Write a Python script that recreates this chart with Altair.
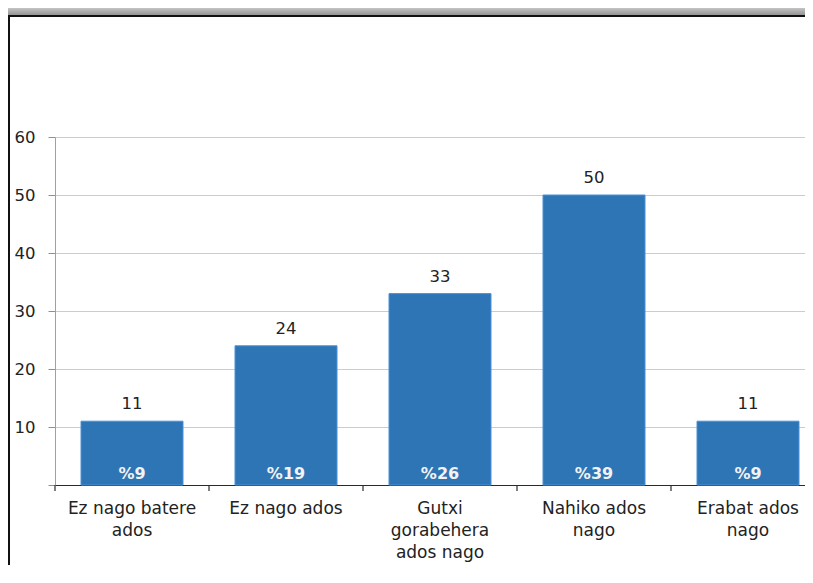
import altair as alt
import pandas as pd

categories = ["Ez nago batere|ados", "Ez nago ados", "Gutxi|gorabehera|ados nago",
              "Nahiko ados|nago", "Erabat ados|nago"]
values = [11, 24, 33, 50, 11]
percents = ["%9", "%19", "%26", "%39", "%9"]
y_ticks = [0, 10, 20, 30, 40, 50, 60]

df = pd.DataFrame({"cat": categories, "value": values, "pct": percents})

FONT = "DejaVu Sans"
W, H = 750, 348
STEP = 154
BAR = 102
pin = (STEP - BAR) / STEP

xscale = alt.Scale(domain=categories, range=[0, STEP * len(categories)],
                   paddingInner=pin, paddingOuter=pin / 2)
yscale = alt.Scale(domain=[0, 60], nice=False)

base = alt.Chart(df)

bars = base.mark_bar(color="#2e75b6", stroke="#4a90d9", strokeWidth=1).encode(
    x=alt.X("cat:N", scale=xscale, sort=categories, title=None,
            axis=alt.Axis(labelExpr="split(datum.label, '|')", labelAngle=0,
                          ticks=False, tickSize=0, labelPadding=15,
                          labelFontSize=17, labelFont=FONT, labelColor="#222222",
                          labelLineHeight=22, domainColor="#2a2a2a", domainWidth=1.2,
                          labelLimit=200)),
    y=alt.Y("value:Q", scale=yscale, title=None,
            axis=alt.Axis(values=y_ticks, grid=True, gridColor="#cccccc",
                          domainColor="#a0a0a0", tickColor="#909090", tickSize=7,
                          labelFontSize=16.5, labelFont=FONT, labelColor="#222222",
                          labelPadding=13,
                          labelExpr="datum.value == 0 ? '' : datum.label")),
)

value_labels = base.mark_text(font=FONT, fontSize=16.5, color="#222222",
                              baseline="alphabetic", dy=-12).encode(
    x=alt.X("cat:N", scale=xscale, sort=categories),
    y=alt.Y("value:Q", scale=yscale),
    text="value:Q",
)

pct_labels = base.mark_text(font=FONT, fontSize=16, fontWeight="bold", color="#f2f2f2",
                            baseline="alphabetic", dy=-6).encode(
    x=alt.X("cat:N", scale=xscale, sort=categories),
    y=alt.datum(0, scale=yscale),
    text="pct:N",
)

ticks = base.mark_rule(color="#2a2a2a", strokeWidth=1.2, xOffset=-(STEP - BAR) / 2).encode(
    x=alt.X("cat:N", scale=xscale, sort=categories, bandPosition=0),
    y=alt.value(H),
    y2=alt.value(H + 6),
)

one = alt.Data(values=[{"k": 1}])
top_shade = alt.Chart(one).mark_rect(
    color=alt.Gradient(gradient="linear", x1=0, y1=0, x2=0, y2=1,
                       stops=[alt.GradientStop(color="#c4c4c4", offset=0),
                              alt.GradientStop(color="#8e8e8e", offset=1)])
).encode(x=alt.value(-47), x2=alt.value(W), y=alt.value(-129), y2=alt.value(-121))

top_line = alt.Chart(one).mark_rule(color="#111111", strokeWidth=2).encode(
    x=alt.value(-46), x2=alt.value(W), y=alt.value(-121))
left_line = alt.Chart(one).mark_rule(color="#111111", strokeWidth=2).encode(
    x=alt.value(-46), y=alt.value(-122), y2=alt.value(H + 80))

chart = alt.layer(top_shade, top_line, left_line, bars, ticks, value_labels, pct_labels).properties(
    width=W, height=H,
    autosize=alt.AutoSizeParams(type="none"),
    padding={"left": 47, "top": 129, "right": 0, "bottom": 80},
).configure_view(stroke=None).configure(background="white")

chart.save("out.html", embed_options={"renderer": "svg", "actions": False})
